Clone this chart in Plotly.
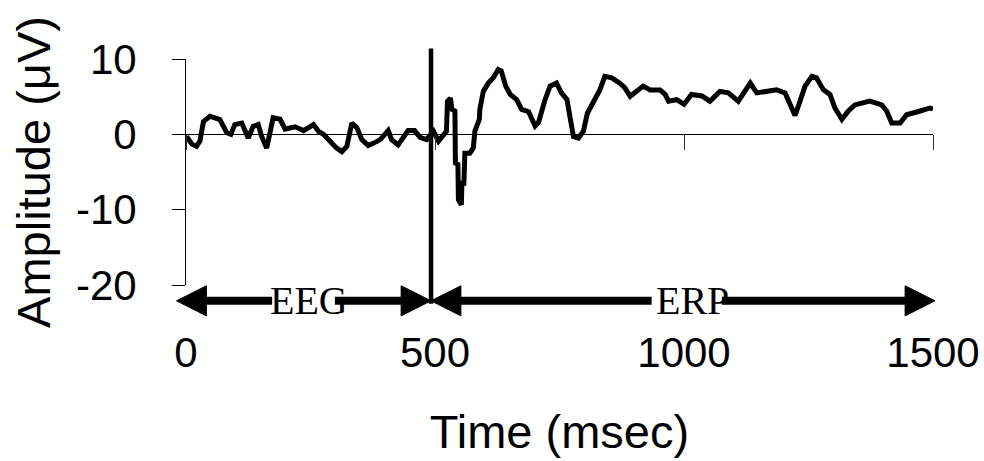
import plotly.graph_objects as go

# Averaged EEG/ERP waveform (stimulus onset near 500 ms)
time_ms = [1, 12, 21, 28, 35, 48, 68, 82, 90, 98, 112, 125, 135, 145, 152, 162, 168,
           175, 189, 199, 219, 236, 256, 266, 276, 289, 302, 313, 323, 333, 343, 353,
           366, 376, 390, 406, 413, 426, 436, 446, 459, 470, 483, 497, 507, 513, 523,
           525, 531, 534, 540, 541, 546, 547, 553, 554, 558, 560, 570, 577, 580, 589,
           590, 597, 607, 617, 627, 633, 642, 651, 664, 674, 688, 701, 708, 721, 731,
           744, 754, 765, 770, 778, 788, 798, 806, 818, 831, 841, 855, 871, 881, 892,
           905, 918, 932, 952, 962, 969, 985, 1000, 1015, 1036, 1052, 1072, 1089, 1109,
           1122, 1133, 1146, 1163, 1186, 1203, 1213, 1223, 1233, 1243, 1257, 1266, 1280,
           1293, 1303, 1317, 1330, 1343, 1373, 1397, 1407, 1417, 1434, 1447, 1474, 1494,
           1500]
amplitude_uv = [-0.3, -1.3, -1.6, -0.9, 1.7, 2.4, 1.95, 0.2, 0.0, 1.3, 1.5, -0.5, 1.06,
                1.3, -0.3, -1.8, 0.0, 2.2, 2.0, 0.7, 1.0, 0.5, 1.3, 0.4, 0.0, -0.9, -1.8,
                -2.3, -1.6, 1.5, 0.9, -0.7, -1.5, -1.2, -0.7, 0.5, -0.7, -1.4, -0.3, 0.5,
                0.5, -0.4, -0.7, 0.4, -0.9, -0.5, 0.4, 4.4, 4.8, 3.3, 3.1, -3.8, -4.0,
                -8.7, -9.35, -6.5, -6.5, -2.5, -2.5, -1.8, 0.4, 2.0, 3.3, 5.7, 6.8, 7.5,
                8.6, 8.4, 6.4, 5.3, 4.6, 3.3, 3.0, 1.1, 1.6, 4.6, 6.4, 6.8, 5.5, 4.6, 2.6,
                -0.3, -0.5, 0.4, 2.8, 4.4, 5.9, 7.7, 7.5, 6.8, 6.2, 5.05, 5.7, 6.4, 5.9,
                5.9, 5.3, 4.4, 4.6, 4.0, 5.3, 5.1, 4.4, 5.7, 5.5, 4.4, 5.7, 6.8, 5.5, 5.7,
                5.9, 5.5, 3.9, 2.5, 4.4, 6.4, 7.7, 7.5, 5.9, 5.3, 3.5, 2.0, 3.1, 3.9, 4.4,
                3.9, 3.1, 1.5, 1.5, 2.6, 3.1, 3.5, 3.4]

x_ticks = [0, 500, 1000, 1500]
x_tick_text = ["0", "500", "1000", "1500"]
y_ticks = [-20, -10, 0, 10]
y_tick_text = ["-20", "-10", "0", "10"]
X_RANGE = [0, 1500]
Y_RANGE = [-20, 10]

ONSET_MS = 492
PERIOD_LABELS = ["EEG", "ERP"]


def px(ms):
    return (ms - X_RANGE[0]) / (X_RANGE[1] - X_RANGE[0])


def py(uv):
    return (uv - Y_RANGE[0]) / (Y_RANGE[1] - Y_RANGE[0])


fig = go.Figure()
fig.add_trace(go.Scatter(x=time_ms, y=amplitude_uv, mode="lines",
                         line=dict(color="black", width=5), showlegend=False,
                         hoverinfo="skip"))

shapes = []
# stimulus onset divider
shapes.append(dict(type="line", xref="paper", yref="paper",
                   x0=px(ONSET_MS), x1=px(ONSET_MS), y0=py(11.4), y1=py(-22.5),
                   line=dict(color="black", width=4.5)))

# period arrows below the plot
ARROW_Y = -22.1
HEAD_LEN = 60
HEAD_HALF = 2.0
BLACK = "black"


def head(tip, direction):
    base = tip - direction * HEAD_LEN
    return dict(type="path", xref="paper", yref="paper",
                path=(f"M {px(tip)} {py(ARROW_Y)} L {px(base)} {py(ARROW_Y + HEAD_HALF)} "
                      f"L {px(base)} {py(ARROW_Y - HEAD_HALF)} Z"),
                fillcolor=BLACK, line=dict(color=BLACK, width=1))


def seg(a, b):
    return dict(type="line", xref="paper", yref="paper",
                x0=px(a), x1=px(b), y0=py(ARROW_Y), y1=py(ARROW_Y),
                line=dict(color=BLACK, width=8))


arrow_spans = [(-19, ONSET_MS, 173, 299), (ONSET_MS, 1504, 935, 1076)]
label_x = [247, 1018]
for (left, right, gap0, gap1) in arrow_spans:
    shapes.append(seg(left + HEAD_LEN - 2, gap0))
    shapes.append(seg(gap1, right - HEAD_LEN + 2))
    shapes.append(head(left, -1))
    shapes.append(head(right, 1))

annotations = []
for name, lx in zip(PERIOD_LABELS, label_x):
    annotations.append(dict(text=name, xref="paper", yref="paper", x=px(lx),
                            y=py(ARROW_Y), showarrow=False, xanchor="center",
                            yanchor="middle",
                            font=dict(family="Liberation Serif", size=40, color="black")))

fig.update_layout(
    width=984, height=461,
    margin=dict(l=186, r=51, t=59, b=176, autoexpand=False),
    plot_bgcolor="white", paper_bgcolor="white",
    font=dict(family="Liberation Sans, Arial", color="black"),
    shapes=shapes, annotations=annotations,
    xaxis=dict(range=X_RANGE, tickvals=x_ticks, ticktext=x_tick_text,
               ticks="outside", ticklen=15,
               tickwidth=1, tickcolor="#333", showline=True, linecolor="black",
               linewidth=1, showgrid=False, zeroline=False, anchor="free",
               position=py(0), ticklabelstandoff=166,
               tickfont=dict(size=42, color="black"),
               title=dict(text="Time (msec)", font=dict(size=47, color="black"),
                          standoff=40),
               automargin=False),
    yaxis=dict(range=Y_RANGE, tickvals=y_ticks, ticktext=y_tick_text,
               ticks="outside", ticklen=13,
               tickwidth=1, tickcolor="black", showline=True, linecolor="black",
               linewidth=1, showgrid=False, zeroline=False, ticklabelstandoff=27,
               tickfont=dict(size=42, color="black"),
               title=dict(text="Amplitude (μV)", font=dict(size=47, color="black"),
                          standoff=10),
               automargin=False),
)

fig.write_html("out.html")
